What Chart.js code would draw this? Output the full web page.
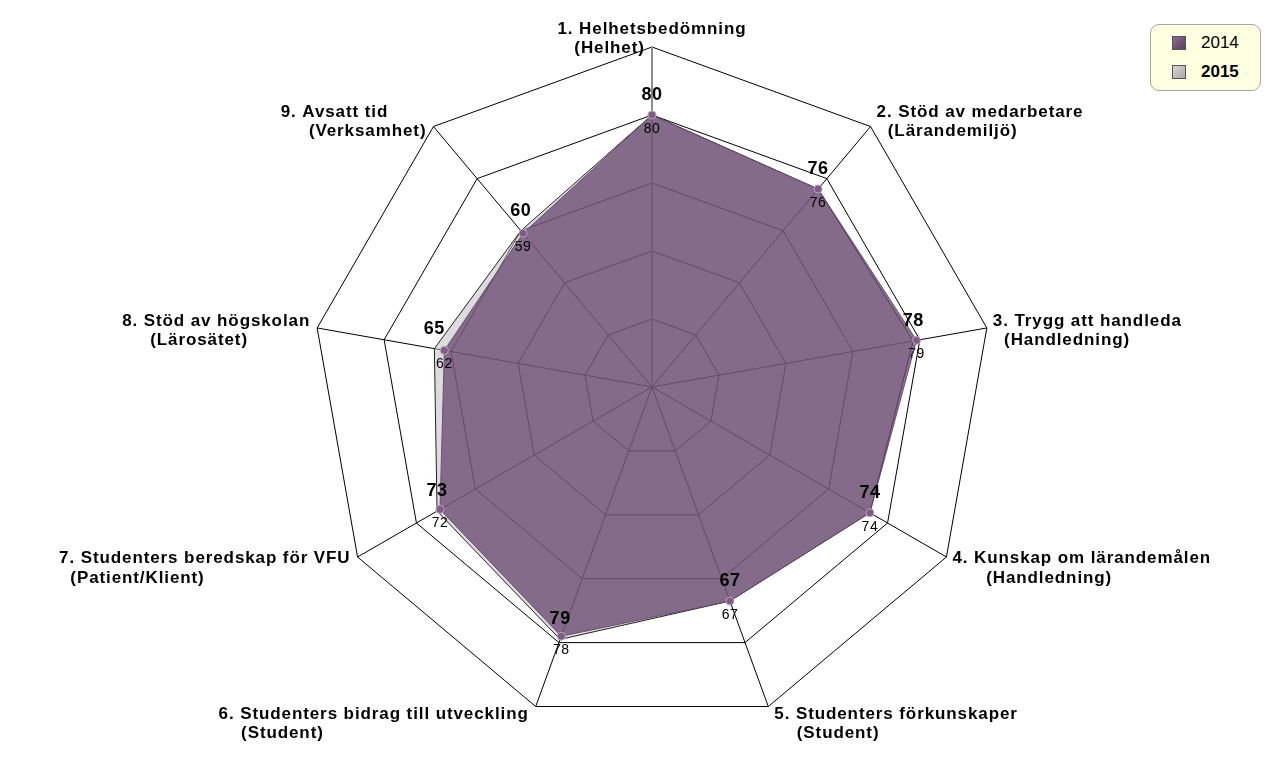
<!DOCTYPE html>
<html>
<head>
<meta charset="utf-8">
<script src="https://cdn.jsdelivr.net/npm/chart.js@4"></script>
<style>
  html, body { margin: 0; padding: 0; background: #fff; }
  #wrap { position: relative; width: 1280px; height: 760px; }
  #legend {
    position: absolute; left: 1150px; top: 24px; width: 111px; height: 67px;
    box-sizing: border-box; background: #ffffe1; border: 1px solid #a6a6a6; border-radius: 9px;
    font-family: "Liberation Sans", Arial, sans-serif; font-size: 17px; color: #000;
  }
  #legend .row { position: absolute; left: 21px; display: flex; align-items: center; }
  #legend .sw { width: 12px; height: 12px; margin-right: 15px; border: 1px solid #555; }
</style>
</head>
<body>
<div id="wrap">
  <canvas id="chart" width="1280" height="760"></canvas>
  <div id="legend">
    <div class="row" style="top:8px"><span class="sw" style="background:linear-gradient(135deg,#8a6a8e,#5e3f63)"></span><span>2014</span></div>
    <div class="row" style="top:37px"><span class="sw" style="background:linear-gradient(135deg,#d6d6d6,#a8a8a8)"></span><b>2015</b></div>
  </div>
</div>
<script>
// ── Data ─────────────────────────────────────────────────────────────────
const categories = [
    ['1. Helhetsbedömning', '   (Helhet)'],
    ['2. Stöd av medarbetare', '  (Lärandemiljö)'],
    ['3. Trygg att handleda', '  (Handledning)'],
    ['4. Kunskap om lärandemålen', '      (Handledning)'],
    ['5. Studenters förkunskaper', '    (Student)'],
    ['6. Studenters bidrag till utveckling', '    (Student)'],
    ['7. Studenters beredskap för VFU', '  (Patient/Klient)'],
    ['8. Stöd av högskolan', '     (Lärosätet)'],
    ['9. Avsatt tid', '     (Verksamhet)'],
];
const values2014 = [80, 76, 79, 74, 67, 78, 72, 62, 59];
const values2015 = [80, 76, 78, 74, 67, 79, 73, 65, 60];
const scaleTicks = [0, 20, 40, 60, 80, 100];

const FONT = '"Liberation Sans", Arial, sans-serif';

// ── Etiquetas de los ejes (bloque alineado a la izquierda) ───────────────
const axisLabels = {
    id: 'axisLabels',
    afterDraw(chart) {
        const scale = chart.scales.r;
        const ctx = chart.ctx;
        const lineH = 19.5;
        ctx.save();
        ctx.font = 'bold 17px ' + FONT;
        ctx.letterSpacing = '0.9px';
        ctx.fillStyle = '#000';
        ctx.textAlign = 'left';
        ctx.textBaseline = 'middle';
        categories.forEach((lines, i) => {
            const p = scale.getPointPosition(i, scale.drawingArea);
            const th = p.angle + Math.PI / 2;
            const s = Math.sin(th), c = Math.cos(th);
            const w = Math.max(...lines.map(l => ctx.measureText(l).width));
            let left;
            if (s > 0.1) left = p.x + 6;
            else if (s < -0.1) left = p.x - 7 - w;
            else left = p.x - ctx.measureText(lines[0]).width / 2;
            const cy = p.y + 5 - 13 * c;
            const top = cy - (lines.length * lineH) / 2;
            lines.forEach((l, k) => ctx.fillText(l, left, top + lineH * (k + 0.5)));
        });
        ctx.restore();
    },
};

// ── Etiquetas de valores ─────────────────────────────────────────────────
function drawValues(chart, dsIndex, font, dy, color) {
    const meta = chart.getDatasetMeta(dsIndex);
    const data = chart.data.datasets[dsIndex].data;
    const ctx = chart.ctx;
    ctx.save();
    ctx.font = font;
    ctx.letterSpacing = '0.5px';
    ctx.fillStyle = color;
    ctx.textAlign = 'center';
    ctx.textBaseline = 'middle';
    meta.data.forEach((pt, i) => ctx.fillText(String(data[i]), pt.x, pt.y + dy));
    ctx.restore();
}

const valueLabels = {
    id: 'valueLabels',
    beforeDatasetDraw(chart, args) {
        // 2014: queda debajo de su propio relleno
        if (args.index === 0) drawValues(chart, 0, '14px ' + FONT, 14, '#000');
    },
    afterDatasetsDraw(chart) {
        drawValues(chart, 1, 'bold 18px ' + FONT, -20, '#000');
    },
};

new Chart(document.getElementById('chart').getContext('2d'), {
    type: 'radar',
    data: {
        labels: categories,
        datasets: [
            {
                label: '2014',
                data: values2014,
                backgroundColor: 'rgba(100,68,108,0.74)',
                borderColor: '#6a4c70',
                borderWidth: 1,
                pointRadius: 4,
                pointBackgroundColor: '#7e5c84',
                pointBorderColor: '#b9a3bd',
                pointBorderWidth: 1,
                fill: true,
            },
            {
                label: '2015',
                data: values2015,
                backgroundColor: 'rgba(185,185,185,0.5)',
                borderColor: '#222',
                borderWidth: 1,
                pointRadius: 0,
                fill: true,
            },
        ],
    },
    options: {
        responsive: false, animation: false,
        layout: { padding: { top: 47, bottom: 33, left: 24, right: 0 } },
        plugins: { legend: { display: false }, tooltip: { enabled: false } },
        scales: {
            r: {
                min: scaleTicks[0], max: scaleTicks[scaleTicks.length - 1],
                ticks: { display: false, stepSize: scaleTicks[1] - scaleTicks[0] },
                grid: { color: '#000', lineWidth: 1 },
                angleLines: {
                    color: c => (c.index === 0 ? '#8c8c8c' : '#000'),
                    lineWidth: c => (c.index === 0 ? 2 : 1),
                },
                pointLabels: { display: false },
            },
        },
    },
    plugins: [axisLabels, valueLabels],
});
</script>
</body>
</html>
